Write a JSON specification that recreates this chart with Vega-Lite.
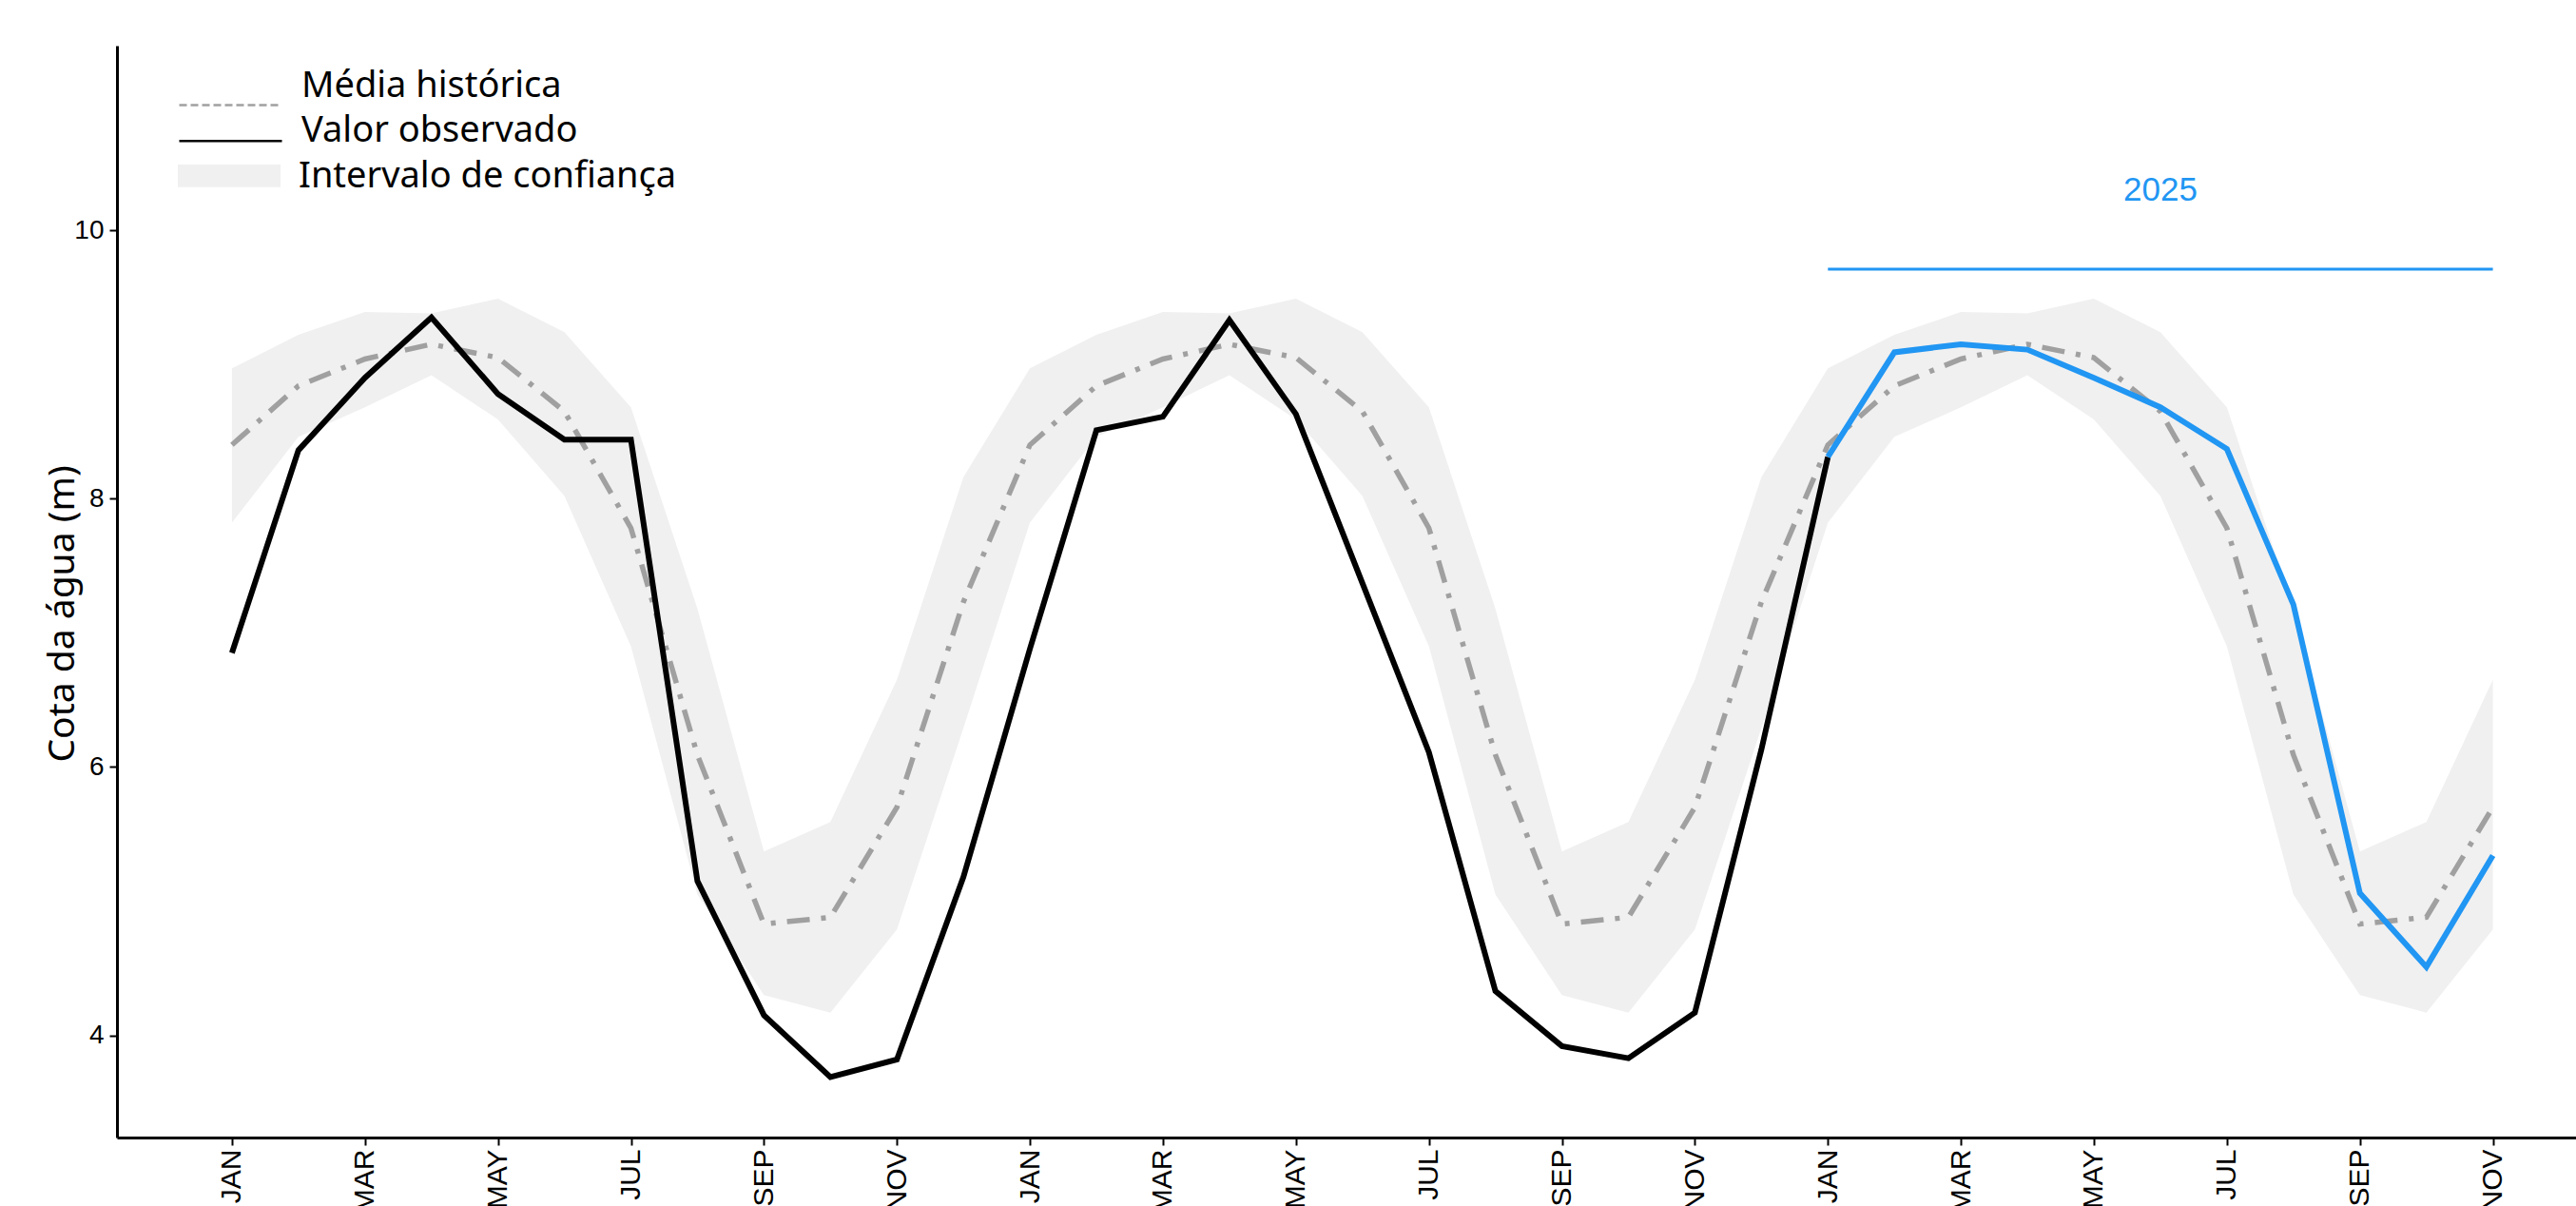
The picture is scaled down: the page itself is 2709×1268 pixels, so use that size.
{
  "$schema": "https://vega.github.io/schema/vega-lite/v6.json",
  "width": 2586,
  "height": 1148,
  "autosize": {"type": "none"},
  "padding": {"left": 123, "top": 48, "right": 0, "bottom": 72},
  "background": "white",
  "config": {
    "view": {"stroke": null},
    "axis": {
      "grid": false,
      "domainColor": "#000000",
      "domainWidth": 3,
      "tickColor": "#000000",
      "tickWidth": 2,
      "tickSize": 8,
      "labelColor": "#000000",
      "labelFont": "Liberation Sans",
      "titleColor": "#000000"
    },
    "legend": {
      "title": null,
      "orient": "none",
      "padding": 0,
      "labelFont": "Noto Sans",
      "labelFontSize": 38,
      "labelColor": "#000000",
      "labelLimit": 0,
      "labelOffset": 19,
      "symbolSize": 11664,
      "symbolStrokeWidth": 2.5,
      "symbolOpacity": 1
    }
  },
  "resolve": {"scale": {"color": "independent"}, "legend": {"color": "independent"}},
  "datasets": {
    "historico": [
      {"i": 0, "data": "2023-01", "media": 8.40, "inf": 7.82, "sup": 8.97},
      {"i": 1, "data": "2023-02", "media": 8.84, "inf": 8.46, "sup": 9.22},
      {"i": 2, "data": "2023-03", "media": 9.04, "inf": 8.68, "sup": 9.39},
      {"i": 3, "data": "2023-04", "media": 9.15, "inf": 8.92, "sup": 9.38},
      {"i": 4, "data": "2023-05", "media": 9.05, "inf": 8.59, "sup": 9.49},
      {"i": 5, "data": "2023-06", "media": 8.65, "inf": 8.02, "sup": 9.24},
      {"i": 6, "data": "2023-07", "media": 7.78, "inf": 6.90, "sup": 8.68},
      {"i": 7, "data": "2023-08", "media": 6.09, "inf": 5.05, "sup": 7.18},
      {"i": 8, "data": "2023-09", "media": 4.83, "inf": 4.30, "sup": 5.37},
      {"i": 9, "data": "2023-10", "media": 4.88, "inf": 4.17, "sup": 5.59},
      {"i": 10, "data": "2023-11", "media": 5.70, "inf": 4.79, "sup": 6.65},
      {"i": 11, "data": "2023-12", "media": 7.23, "inf": 6.29, "sup": 8.16},
      {"i": 12, "data": "2024-01", "media": 8.40, "inf": 7.82, "sup": 8.97},
      {"i": 13, "data": "2024-02", "media": 8.84, "inf": 8.46, "sup": 9.22},
      {"i": 14, "data": "2024-03", "media": 9.04, "inf": 8.68, "sup": 9.39},
      {"i": 15, "data": "2024-04", "media": 9.15, "inf": 8.92, "sup": 9.38},
      {"i": 16, "data": "2024-05", "media": 9.05, "inf": 8.59, "sup": 9.49},
      {"i": 17, "data": "2024-06", "media": 8.65, "inf": 8.02, "sup": 9.24},
      {"i": 18, "data": "2024-07", "media": 7.78, "inf": 6.90, "sup": 8.68},
      {"i": 19, "data": "2024-08", "media": 6.09, "inf": 5.05, "sup": 7.18},
      {"i": 20, "data": "2024-09", "media": 4.83, "inf": 4.30, "sup": 5.37},
      {"i": 21, "data": "2024-10", "media": 4.88, "inf": 4.17, "sup": 5.59},
      {"i": 22, "data": "2024-11", "media": 5.70, "inf": 4.79, "sup": 6.65},
      {"i": 23, "data": "2024-12", "media": 7.23, "inf": 6.29, "sup": 8.16},
      {"i": 24, "data": "2025-01", "media": 8.40, "inf": 7.82, "sup": 8.97},
      {"i": 25, "data": "2025-02", "media": 8.84, "inf": 8.46, "sup": 9.22},
      {"i": 26, "data": "2025-03", "media": 9.04, "inf": 8.68, "sup": 9.39},
      {"i": 27, "data": "2025-04", "media": 9.15, "inf": 8.92, "sup": 9.38},
      {"i": 28, "data": "2025-05", "media": 9.05, "inf": 8.59, "sup": 9.49},
      {"i": 29, "data": "2025-06", "media": 8.65, "inf": 8.02, "sup": 9.24},
      {"i": 30, "data": "2025-07", "media": 7.78, "inf": 6.90, "sup": 8.68},
      {"i": 31, "data": "2025-08", "media": 6.09, "inf": 5.05, "sup": 7.18},
      {"i": 32, "data": "2025-09", "media": 4.83, "inf": 4.30, "sup": 5.37},
      {"i": 33, "data": "2025-10", "media": 4.88, "inf": 4.17, "sup": 5.59},
      {"i": 34, "data": "2025-11", "media": 5.70, "inf": 4.79, "sup": 6.65}
    ],
    "observado": [
      {"i": 0, "valor": 6.85, "grupo": "anterior"},
      {"i": 1, "valor": 8.36, "grupo": "anterior"},
      {"i": 2, "valor": 8.90, "grupo": "anterior"},
      {"i": 3, "valor": 9.35, "grupo": "anterior"},
      {"i": 4, "valor": 8.78, "grupo": "anterior"},
      {"i": 5, "valor": 8.44, "grupo": "anterior"},
      {"i": 6, "valor": 8.44, "grupo": "anterior"},
      {"i": 7, "valor": 5.15, "grupo": "anterior"},
      {"i": 8, "valor": 4.15, "grupo": "anterior"},
      {"i": 9, "valor": 3.69, "grupo": "anterior"},
      {"i": 10, "valor": 3.82, "grupo": "anterior"},
      {"i": 11, "valor": 5.18, "grupo": "anterior"},
      {"i": 12, "valor": 6.88, "grupo": "anterior"},
      {"i": 13, "valor": 8.51, "grupo": "anterior"},
      {"i": 14, "valor": 8.61, "grupo": "anterior"},
      {"i": 15, "valor": 9.33, "grupo": "anterior"},
      {"i": 16, "valor": 8.63, "grupo": "anterior"},
      {"i": 17, "valor": 7.37, "grupo": "anterior"},
      {"i": 18, "valor": 6.11, "grupo": "anterior"},
      {"i": 19, "valor": 4.33, "grupo": "anterior"},
      {"i": 20, "valor": 3.92, "grupo": "anterior"},
      {"i": 21, "valor": 3.83, "grupo": "anterior"},
      {"i": 22, "valor": 4.17, "grupo": "anterior"},
      {"i": 23, "valor": 6.13, "grupo": "anterior"},
      {"i": 24, "valor": 8.31, "grupo": "anterior"},
      {"i": 24, "valor": 8.31, "grupo": "2025"},
      {"i": 25, "valor": 9.09, "grupo": "2025"},
      {"i": 26, "valor": 9.15, "grupo": "2025"},
      {"i": 27, "valor": 9.11, "grupo": "2025"},
      {"i": 28, "valor": 8.90, "grupo": "2025"},
      {"i": 29, "valor": 8.68, "grupo": "2025"},
      {"i": 30, "valor": 8.37, "grupo": "2025"},
      {"i": 31, "valor": 7.21, "grupo": "2025"},
      {"i": 32, "valor": 5.06, "grupo": "2025"},
      {"i": 33, "valor": 4.51, "grupo": "2025"},
      {"i": 34, "valor": 5.34, "grupo": "2025"}
    ],
    "anotacao": [
      {"inicio": 24, "fim": 34, "centro": 29, "nivel": 9.71, "nivel_texto": 10.30, "rotulo": "2025"}
    ]
  },
  "encoding": {
    "x": {
      "field": "i",
      "type": "quantitative",
      "scale": {"domain": [-1.729, 35.25], "nice": false, "zero": false},
      "axis": {
        "title": null,
        "values": [0, 2, 4, 6, 8, 10, 12, 14, 16, 18, 20, 22, 24, 26, 28, 30, 32, 34],
        "labelExpr": "['JAN','FEB','MAR','APR','MAY','JUN','JUL','AUG','SEP','OCT','NOV','DEC'][datum.value % 12]",
        "labelAngle": 270,
        "labelAlign": "right",
        "labelBaseline": "middle",
        "labelFontSize": 30,
        "labelPadding": 4,
        "labelFlush": false,
        "labelOverlap": false
      }
    }
  },
  "layer": [
    {
      "data": {"name": "historico"},
      "mark": {"type": "area", "opacity": 1},
      "encoding": {
        "y": {
          "field": "inf",
          "type": "quantitative",
          "scale": {"domain": [3.239, 11.375], "nice": false, "zero": false},
          "axis": {
            "title": "Cota da água (m)",
            "values": [4, 6, 8, 10],
            "format": "d",
            "labelFontSize": 28,
            "labelPadding": 6,
            "titleFont": "Noto Sans",
            "titleFontSize": 39,
            "titleFontWeight": "normal",
            "titleAngle": -90,
            "titleBaseline": "alphabetic",
            "titleAlign": "center",
            "titleX": -46,
            "titleY": 597
          }
        },
        "y2": {"field": "sup"},
        "color": {
          "datum": "Intervalo de confiança",
          "type": "nominal",
          "scale": {"domain": ["Intervalo de confiança"], "range": ["#f0f0f0"]},
          "legend": {
            "legendX": 64,
            "legendY": 84,
            "symbolType": "M-1,-0.24H1V0.2H-1Z",
            "symbolFillColor": "#f0f0f0",
            "symbolStrokeWidth": 0
          }
        }
      }
    },
    {
      "data": {"name": "historico"},
      "mark": {"type": "line", "strokeWidth": 5.5, "strokeDash": [24, 12, 5, 12]},
      "encoding": {
        "y": {"field": "media", "type": "quantitative"},
        "color": {
          "datum": "Média histórica",
          "type": "nominal",
          "scale": {"domain": ["Média histórica"], "range": ["#a0a0a0"]},
          "legend": {
            "legendX": 64,
            "legendY": -13,
            "symbolType": "M-1,0.37L1,0.37",
            "symbolDash": [8, 4],
            "symbolStrokeWidth": 2.5
          }
        }
      }
    },
    {
      "data": {"name": "observado"},
      "transform": [{"filter": "datum.grupo === 'anterior'"}],
      "mark": {"type": "line", "strokeWidth": 6},
      "encoding": {
        "y": {"field": "valor", "type": "quantitative"},
        "color": {
          "datum": "Valor observado",
          "type": "nominal",
          "scale": {"domain": ["Valor observado"], "range": ["#000000"]},
          "legend": {
            "legendX": 64,
            "legendY": 34,
            "symbolType": "M-1,0.2L1,0.2",
            "symbolStrokeWidth": 2.5
          }
        }
      }
    },
    {
      "data": {"name": "observado"},
      "transform": [{"filter": "datum.grupo === '2025'"}],
      "mark": {"type": "line", "strokeWidth": 6, "color": "#2196F3"},
      "encoding": {
        "y": {"field": "valor", "type": "quantitative"}
      }
    },
    {
      "data": {"name": "anotacao"},
      "mark": {"type": "rule", "strokeWidth": 3, "color": "#2196F3"},
      "encoding": {
        "x": {"field": "inicio", "type": "quantitative"},
        "x2": {"field": "fim"},
        "y": {"field": "nivel", "type": "quantitative"}
      }
    },
    {
      "data": {"name": "anotacao"},
      "mark": {"type": "text", "font": "Liberation Sans", "fontSize": 35, "color": "#2196F3", "baseline": "middle", "align": "center"},
      "encoding": {
        "x": {"field": "centro", "type": "quantitative"},
        "y": {"field": "nivel_texto", "type": "quantitative"},
        "text": {"field": "rotulo"}
      }
    }
  ]
}
